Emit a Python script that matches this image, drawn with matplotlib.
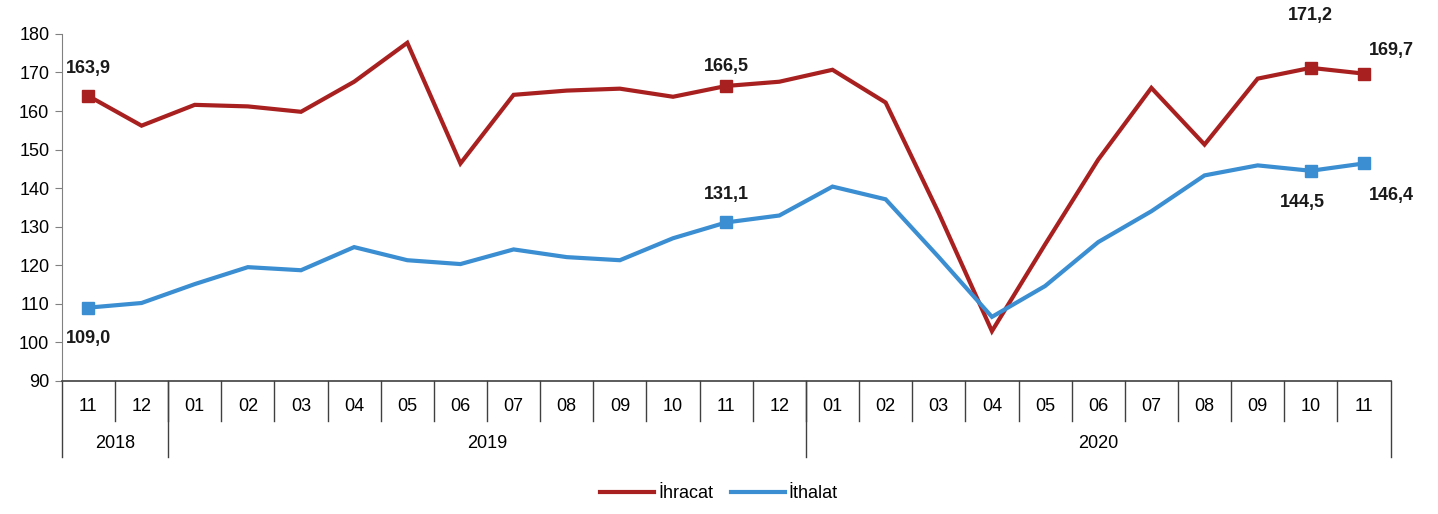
import numpy as np
import matplotlib.pyplot as plt
import matplotlib.transforms as mtransforms

plt.rcParams['font.family'] = ['Liberation Sans', 'DejaVu Sans']

# Monthly index values, 11/2018 - 11/2020
months = ['11', '12', '01', '02', '03', '04', '05', '06', '07', '08', '09', '10', '11',
          '12', '01', '02', '03', '04', '05', '06', '07', '08', '09', '10', '11']
years = ['2018', '2019', '2020']
year_counts = [2, 12, 11]

ihracat = [163.9, 156.2, 161.6, 161.2, 159.8, 167.6, 177.7, 146.4, 164.2, 165.3, 165.8, 163.7, 166.5,
           167.6, 170.7, 162.2, 133.5, 102.9, 125.4, 147.4, 166.0, 151.3, 168.4, 171.2, 169.7]
ithalat = [109.0, 110.2, 115.1, 119.5, 118.7, 124.7, 121.3, 120.3, 124.1, 122.1, 121.3, 127.0, 131.1,
           132.9, 140.4, 137.1, 122.1, 106.6, 114.6, 126.0, 134.0, 143.3, 145.9, 144.5, 146.4]

# which points get a marker and a value label, with label offsets (points)
ihracat_labels = {0: (0, 20), 12: (0, 14), 23: (0, 38), 24: (20, 17)}
ithalat_labels = {0: (0, -22), 12: (0, 20), 23: (-6, -23), 24: (20, -23)}

red = '#A8201F'
blue = '#3A8ED1'

fig = plt.figure(figsize=(14.38, 5.14), dpi=100)
ax = fig.add_axes([0.043, 0.259, 0.924, 0.675])

x = np.arange(len(months))
ax.plot(x, ihracat, color=red, lw=3, label='İhracat', solid_joinstyle='miter')
ax.plot(x, ithalat, color=blue, lw=3, label='İthalat', solid_joinstyle='miter')

for series, labels, color in [(ihracat, ihracat_labels, red), (ithalat, ithalat_labels, blue)]:
    for i, (dx, dy) in labels.items():
        ax.plot(x[i], series[i], 's', color=color, ms=8)
        ax.annotate(f'{series[i]:.1f}'.replace('.', ','), (x[i], series[i]),
                    xytext=(dx, dy), textcoords='offset points',
                    ha='center', va='center', fontsize=13, fontweight='bold', color='#1a1a1a')

ax.set_xlim(-0.5, len(months) - 0.5)
ax.set_ylim(90, 180)
ax.set_yticks(np.arange(90, 181, 10))
ax.tick_params(axis='y', labelsize=13, length=5, color='#808080', pad=4)
ax.set_xticks([])
for s in ['top', 'right']:
    ax.spines[s].set_visible(False)
ax.spines['left'].set_color('#808080')
ax.spines['bottom'].set_color('#404040')
ax.spines['bottom'].set_linewidth(1.2)

# category table below the axis
trans = mtransforms.blended_transform_factory(ax.transData, ax.transAxes)
month_depth = -0.115
year_depth = -0.22
for i, m in enumerate(months):
    ax.text(i, -0.075, m, transform=trans, ha='center', va='center', fontsize=13)
for i in range(1, len(months)):
    ax.plot([i - 0.5, i - 0.5], [0, month_depth], transform=trans, color='#404040',
            lw=1, clip_on=False)

start = 0
edges = [-0.5]
for yr, n in zip(years, year_counts):
    ax.text(start + (n - 1) / 2, -0.18, yr, transform=trans, ha='center', va='center',
            fontsize=13)
    start += n
    edges.append(start - 0.5)
for e in edges:
    ax.plot([e, e], [0, year_depth], transform=trans, color='#404040', lw=1, clip_on=False)

fig.legend(loc='lower center', bbox_to_anchor=(0.5, -0.008), ncol=2, frameon=False,
           fontsize=13, handlelength=3, handletextpad=0.2, columnspacing=1.0)

fig.savefig('out.png', dpi=100)
